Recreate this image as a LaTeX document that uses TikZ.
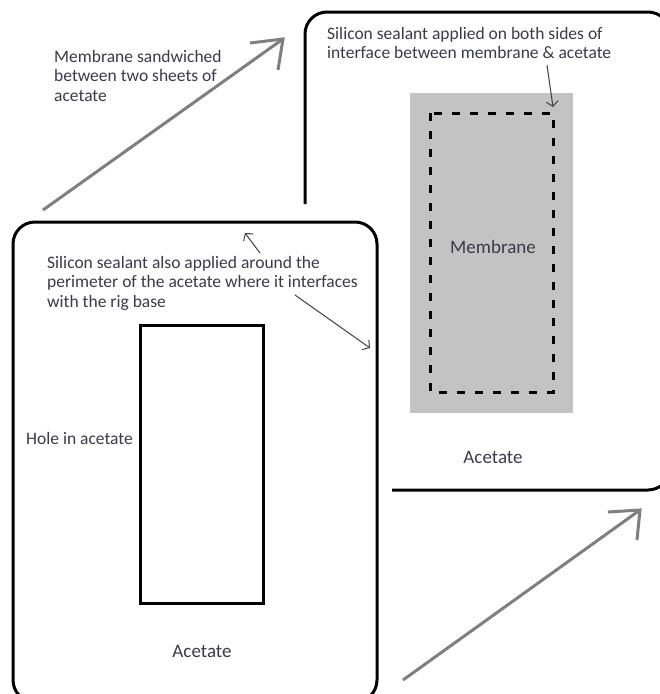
\documentclass[tikz,border=0pt]{standalone}
\usepackage{fontspec}
\setmainfont{Carlito}
\usetikzlibrary{arrows.meta}
\definecolor{arrowgray}{HTML}{7F7F7F}
\definecolor{sealgray}{HTML}{C3C3C3}
\definecolor{notecol}{HTML}{3A3A4A}
\tikzset{sheet/.style={draw=black,line width=3pt,rounded corners=22pt},
 bigarrow/.style={draw=arrowgray,line width=3pt},
 pointer/.style={draw=black!75,line width=1pt,-{Straight Barb[length=5pt,width=12pt]}},
 annot/.style={inner sep=0pt,align=left,text=notecol,
   font=\fontsize{17.5}{19.5}\selectfont},
 boxlabel/.style={inner sep=0pt,text=notecol,font=\fontsize{19}{22}\selectfont},
 }

\begin{document}
\begin{tikzpicture}[x=1pt,y=-1pt]
        \useasboundingbox (0,0) rectangle (660,694);
        \clip (0,0) rectangle (660,694);
        \draw[sheet] (305,204) -- (305,12) -- (670,12) -- (670,490) -- (392,490);
        \fill[sealgray] (410,93) rectangle (573,413);
        \draw[line width=3pt,dash pattern=on 8pt off 10pt] (430,113) rectangle (553,392);
        \node[boxlabel,anchor=base] (membrane) at (493,253) {Membrane};
        \node[boxlabel,anchor=base] (backacetate) at (493,463) {Acetate};
        \node[annot,anchor=north west] (bothsides) at (327,27)
            {Silicon sealant applied on both sides of\\interface between membrane \& acetate};
        \coordinate (bs1) at (547,65);
        \coordinate (bs2) at (553,107);
        \draw[pointer] (bs1) -- (bs2);

        \draw[sheet,fill=white] (13,222) rectangle (377,702);
        \draw[line width=3pt] (140,325) rectangle (263,603);
        \node[annot,anchor=base west] (hole) at (26,444) {Hole in acetate};
        \node[boxlabel,anchor=base] (frontacetate) at (202,657) {Acetate};
        \node[annot,anchor=north west] (perimeter) at (47,256)
            {Silicon sealant also applied around the\\perimeter of the acetate where it interfaces\\with the rig base};
        \coordinate (pa1) at (260,253);
        \coordinate (pa2) at (245,233);
        \coordinate (pb1) at (295,295);
        \coordinate (pb2) at (370,348);
        \draw[pointer] (pa1) -- (pa2);
        \draw[pointer] (pb1) -- (pb2);

        \node[annot,anchor=north west] (sandwich) at (54,50)
            {Membrane sandwiched\\between two sheets of\\acetate};
        \coordinate (s1) at (43,210);
        \coordinate (t1) at (283,39);
        \coordinate (s2) at (403,680);
        \coordinate (t2) at (640,510);
        \draw[bigarrow] (s1) -- (t1);
        \draw[bigarrow] ([shift={(-33,4)}]t1) -- (t1) -- ([shift={(-5,31)}]t1);
        \draw[bigarrow] (s2) -- (t2);
        \draw[bigarrow] ([shift={(-32,2)}]t2) -- (t2) -- ([shift={(-3,30)}]t2);
    \end{tikzpicture}
\end{document}
